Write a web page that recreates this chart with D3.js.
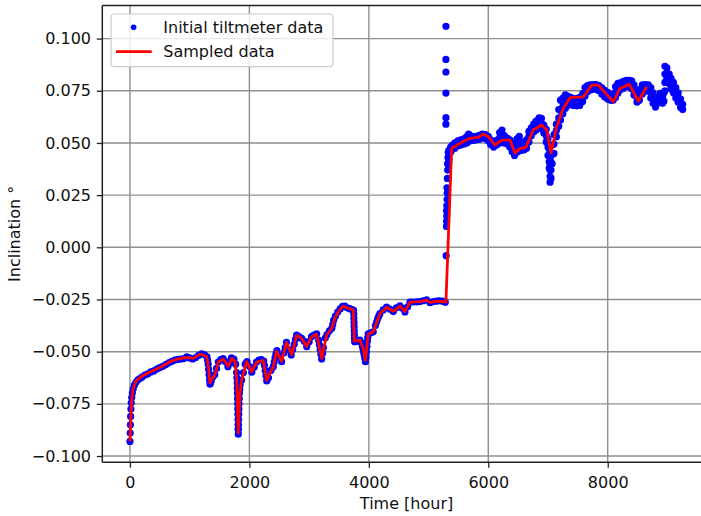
<!DOCTYPE html>
<html>
<head>
<meta charset="utf-8">
<script src="https://cdn.jsdelivr.net/npm/d3@7/dist/d3.min.js"></script>
<style>
  html, body { margin: 0; padding: 0; background: #fff; }
  svg { display: block; font-family: "DejaVu Sans", sans-serif; }
</style>
</head>
<body>
<svg id="chart" width="701" height="516"></svg>
<script>
// ---------------- DATA ----------------
// Tiltmeter readings [hour, inclination °] before the step
const tiltBeforeJump = [
  [0,-0.0930],[4,-0.0890],[8,-0.0850],[12,-0.0810],[16,-0.0775],[22,-0.0745],[30,-0.0720],[40,-0.0698],
  [55,-0.0678],[75,-0.0660],[100,-0.0647],[130,-0.0636],[160,-0.0630],[200,-0.0622],[250,-0.0612],
  [300,-0.0606],[350,-0.0597],[400,-0.0592],[450,-0.0583],[500,-0.0576],[550,-0.0570],[600,-0.0562],
  [650,-0.0553],[700,-0.0546],[750,-0.0540],[800,-0.0537],[850,-0.0535],[900,-0.0533],[950,-0.0525],
  [1000,-0.0530],[1050,-0.0535],[1100,-0.0528],[1150,-0.0518],[1200,-0.0510],[1250,-0.0515],
  [1290,-0.0525],[1300,-0.0540],[1310,-0.0560],[1318,-0.0585],[1325,-0.0610],[1332,-0.0635],
  [1340,-0.0655],[1348,-0.0650],[1360,-0.0640],[1390,-0.0620],
  [1420,-0.0610],[1450,-0.0580],[1480,-0.0550],[1520,-0.0538],[1560,-0.0533],[1600,-0.0548],
  [1640,-0.0572],[1670,-0.0555],[1700,-0.0530],[1740,-0.0535],[1770,-0.0560],[1785,-0.0600],
  [1790,-0.0625],[1795,-0.0650],[1798,-0.0675],[1800,-0.0700],[1802,-0.0725],[1804,-0.0750],
  [1806,-0.0775],[1808,-0.0800],[1810,-0.0825],[1811,-0.0850],[1812,-0.0870],[1814,-0.0895],
  [1816,-0.0872],[1818,-0.0850],[1820,-0.0825],[1822,-0.0800],[1825,-0.0775],[1827,-0.0750],
  [1830,-0.0725],[1833,-0.0700],[1838,-0.0680],[1845,-0.0660],[1870,-0.0636],
  [1900,-0.0600],[1930,-0.0560],[1960,-0.0548],[2000,-0.0570],[2040,-0.0598],[2080,-0.0575],
  [2120,-0.0550],[2160,-0.0540],[2200,-0.0538],[2240,-0.0545],[2252,-0.0565],[2265,-0.0590],
  [2278,-0.0615],[2290,-0.0640],[2320,-0.0625],[2360,-0.0590],[2400,-0.0572],[2415,-0.0550],
  [2430,-0.0530],[2445,-0.0512],[2460,-0.0495],[2500,-0.0520],
  [2540,-0.0548],[2580,-0.0505],[2600,-0.0480],[2620,-0.0455],[2660,-0.0490],[2700,-0.0516],
  [2725,-0.0490],[2750,-0.0465],[2770,-0.0442],
  [2790,-0.0420],[2830,-0.0428],[2875,-0.0436],[2920,-0.0450],[2960,-0.0476],[3000,-0.0452],
  [3040,-0.0428],[3080,-0.0420],[3126,-0.0415],[3160,-0.0445],[3172,-0.0467],[3185,-0.0490],
  [3198,-0.0512],[3210,-0.0535],[3225,-0.0507],
  [3240,-0.0480],[3270,-0.0435],[3300,-0.0418],[3340,-0.0400],[3380,-0.0388],[3395,-0.0370],
  [3410,-0.0350],
  [3440,-0.0330],[3480,-0.0310],[3520,-0.0295],[3560,-0.0283],[3600,-0.0282],[3640,-0.0290],
  [3680,-0.0294],[3720,-0.0298],[3745,-0.0302],[3748,-0.0320],[3750,-0.0340],[3752,-0.0360],
  [3754,-0.0380],[3756,-0.0400],[3758,-0.0420],[3760,-0.0436],
  [3762,-0.0452],[3800,-0.0450],[3850,-0.0445],[3880,-0.0460],[3893,-0.0475],[3905,-0.0490],
  [3915,-0.0505],[3925,-0.0520],[3935,-0.0535],
  [3943,-0.0548],[3952,-0.0525],[3960,-0.0500],[3968,-0.0475],[3975,-0.0450],[3982,-0.0432],
  [3990,-0.0415],[4030,-0.0410],[4074,-0.0405],
  [4110,-0.0375],[4130,-0.0357],[4150,-0.0340],[4168,-0.0328],[4186,-0.0318],[4240,-0.0300],
  [4298,-0.0286],[4350,-0.0296],
  [4409,-0.0308],[4460,-0.0290],[4521,-0.0280],[4560,-0.0292],[4605,-0.0310],[4650,-0.0285],
  [4689,-0.0262],[4740,-0.0262],[4800,-0.0261],[4856,-0.0260],[4910,-0.0256],[4968,-0.0252],
  [5024,-0.0265],[5080,-0.0260],[5136,-0.0258],[5180,-0.0256],[5230,-0.0258],[5280,-0.0263]
];

// Readings during the step around hour 5300
const tiltJump = [
  [5295,-0.0040],[5300,0.0100],[5302,0.0125],[5305,0.0150],[5300,0.0175],[5305,0.0200],
  [5310,0.0230],[5312,0.0260],[5308,0.0285],[5315,0.0330],[5320,0.0370],[5318,0.0400],
  [5325,0.0430],[5330,0.0455]
];

// Isolated outlier readings at the step
const tiltSpikes = [
  [5291,0.0590],[5291,0.0621],[5291,0.0739],[5291,0.0840],[5291,0.0900],[5291,0.1059]
];

// Readings after the step: [hour, reading, reading, ...]
const tiltAfterJump = [
  [5340,0.0420,0.0443,0.0465],[5370,0.0455,0.0480],[5400,0.0470,0.0490],[5440,0.0475,0.0500],
  [5490,0.0485,0.0510],[5540,0.0490,0.0515],[5590,0.0495,0.0520],[5640,0.0500,0.0530],
  [5670,0.0510,0.0542],[5700,0.0510,0.0535],[5750,0.0512,0.0530],[5800,0.0515,0.0532],
  [5850,0.0518,0.0537],[5900,0.0525,0.0542],[5950,0.0520,0.0540],[6000,0.0510,0.0532],
  [6040,0.0492,0.0515],[6090,0.0480,0.0502],[6140,0.0490,0.0512],[6190,0.0500,0.0525,0.0550],
  [6230,0.0505,0.0535,0.0562],[6270,0.0500,0.0535],[6320,0.0495,0.0522],[6360,0.0480,0.0515],
  [6400,0.0458,0.0480,0.0500],[6440,0.0440,0.0468],[6480,0.0455,0.0488,0.0520],
  [6520,0.0462,0.0497,0.0532],[6560,0.0465,0.0485,0.0505],[6600,0.0468,0.0500],
  [6640,0.0475,0.0495,0.0515],[6680,0.0505,0.0530,0.0555],[6720,0.0535,0.0553,0.0572],
  [6760,0.0552,0.0571,0.0590],[6800,0.0562,0.0583,0.0605],[6850,0.0570,0.0595,0.0620],
  [6890,0.0572,0.0595,0.0618],[6930,0.0548,0.0566,0.0585],[6970,0.0505,0.0535,0.0565],
  [7000,0.0440,0.0480,0.0520],[7020,0.0380,0.0410,0.0440,0.0470],
  [7035,0.0312,0.0340,0.0370,0.0400,0.0430],[7050,0.0330,0.0370,0.0410,0.0450],
  [7070,0.0400,0.0445,0.0490],[7100,0.0450,0.0495,0.0540],[7140,0.0530,0.0560,0.0590],
  [7180,0.0580,0.0620,0.0660],[7210,0.0610,0.0655,0.0705],[7250,0.0640,0.0678,0.0715],
  [7290,0.0665,0.0698,0.0730],[7330,0.0680,0.0725],[7380,0.0688,0.0718],[7430,0.0680,0.0712],
  [7480,0.0678,0.0712],[7530,0.0680,0.0718],[7580,0.0698,0.0735],[7620,0.0725,0.0745,0.0765],
  [7660,0.0745,0.0775],[7700,0.0752,0.0778],[7750,0.0757,0.0780],[7800,0.0757,0.0780],
  [7850,0.0750,0.0776],[7900,0.0735,0.0765],[7950,0.0720,0.0752],[8000,0.0710,0.0742],
  [8050,0.0704,0.0732],[8090,0.0704,0.0730],[8130,0.0718,0.0744,0.0770],
  [8170,0.0738,0.0762,0.0785],[8210,0.0755,0.0788],[8260,0.0762,0.0795],[8310,0.0768,0.0800],
  [8360,0.0770,0.0800],[8400,0.0760,0.0798],[8440,0.0730,0.0754,0.0778],
  [8490,0.0696,0.0718,0.0740],[8530,0.0705,0.0730,0.0755],[8580,0.0735,0.0757,0.0778],
  [8630,0.0752,0.0780],[8680,0.0748,0.0778],[8720,0.0715,0.0740,0.0765],
  [8760,0.0690,0.0715,0.0740],[8800,0.0672,0.0693,0.0715],[8840,0.0690,0.0720],
  [8880,0.0705,0.0738],[8920,0.0690,0.0725],[8940,0.0700,0.0740],
  [8958,0.0750,0.0790,0.0830,0.0867],[8990,0.0810,0.0835,0.0860],[9030,0.0785,0.0808,0.0830],
  [9060,0.0760,0.0785,0.0810],[9100,0.0740,0.0765,0.0790],[9140,0.0715,0.0740,0.0765],
  [9180,0.0695,0.0718,0.0740],[9220,0.0670,0.0690,0.0710],[9255,0.0660,0.0685]
];

// Sampled series [hour, inclination °]
const sampled = [
  [0,-0.0930],[28,-0.0730],[59,-0.0670],[112,-0.0636],[223,-0.0614],[335,-0.0597],[502,-0.0576],
  [670,-0.0548],[782,-0.0537],[949,-0.0527],[1060,-0.0532],[1172,-0.0512],[1284,-0.0522],
  [1315,-0.0575],[1340,-0.0650],[1373,-0.0630],[1423,-0.0610],[1479,-0.0550],[1562,-0.0535],
  [1646,-0.0570],[1703,-0.0532],[1758,-0.0545],[1786,-0.0620],[1813,-0.0890],[1842,-0.0700],
  [1870,-0.0636],[1954,-0.0548],[2038,-0.0595],[2122,-0.0550],[2232,-0.0542],[2289,-0.0638],
  [2400,-0.0572],[2456,-0.0497],[2540,-0.0546],[2624,-0.0456],[2708,-0.0515],[2791,-0.0422],
  [2875,-0.0436],[2959,-0.0475],[3043,-0.0428],[3126,-0.0416],[3210,-0.0532],[3294,-0.0420],
  [3378,-0.0388],[3433,-0.0338],[3517,-0.0296],[3572,-0.0282],[3656,-0.0292],[3739,-0.0300],
  [3756,-0.0450],[3851,-0.0445],[3901,-0.0482],[3943,-0.0542],[3990,-0.0415],[4074,-0.0405],
  [4186,-0.0318],[4298,-0.0287],[4409,-0.0307],[4521,-0.0281],[4605,-0.0308],[4689,-0.0263],
  [4856,-0.0260],[4968,-0.0253],[5024,-0.0264],[5136,-0.0258],[5291,-0.0262],[5387,0.0474],
  [5526,0.0498],[5693,0.0522],[5832,0.0527],[5916,0.0543],[6000,0.0530],[6112,0.0490],
  [6224,0.0514],[6363,0.0514],[6447,0.0452],[6531,0.0474],[6631,0.0479],[6753,0.0562],
  [6894,0.0586],[6978,0.0562],[7050,0.0452],[7145,0.0578],[7256,0.0666],[7368,0.0717],
  [7591,0.0721],[7732,0.0777],[7842,0.0777],[8093,0.0697],[8205,0.0761],[8361,0.0781],
  [8512,0.0701],[8652,0.0769]
];

const xTicks = [0, 2000, 4000, 6000, 8000];
const yTicks = [-0.100, -0.075, -0.050, -0.025, 0.000, 0.025, 0.050, 0.075, 0.100];
const xDomain = [-463, 9726];
const yDomain = [-0.10295, 0.11585];
const legendLabels = ["Initial tiltmeter data", "Sampled data"];
const xLabel = "Time [hour]";
const yLabel = "Inclination °";

// ---------------- LAYOUT ----------------
const plot = { left: 102.3, right: 710.8, top: 5.5, bottom: 462.2 };
const FONT = 16;

const svg = d3.select("#chart");
const x = d3.scaleLinear().domain(xDomain).range([plot.left, plot.right]);
const y = d3.scaleLinear().domain(yDomain).range([plot.bottom, plot.top]);

// flatten readings into one table
const readings = [];
tiltBeforeJump.forEach(d => readings.push(d));
tiltJump.forEach(d => readings.push(d));
tiltSpikes.forEach(d => readings.push(d));
tiltAfterJump.forEach(row => row.slice(1).forEach(v => readings.push([row[0], v])));

svg.append("defs").append("clipPath").attr("id", "clip")
  .append("rect").attr("x", plot.left).attr("y", plot.top)
  .attr("width", plot.right - plot.left).attr("height", plot.bottom - plot.top);

// grid
const grid = svg.append("g");
grid.selectAll("line.gx").data(xTicks).join("line")
  .attr("x1", d => x(d)).attr("x2", d => x(d))
  .attr("y1", plot.top).attr("y2", plot.bottom)
  .attr("stroke", "#8f8f8f").attr("stroke-width", 1.4);
grid.selectAll("line.gy").data(yTicks).join("line")
  .attr("y1", d => y(d)).attr("y2", d => y(d))
  .attr("x1", plot.left).attr("x2", plot.right)
  .attr("stroke", "#8f8f8f").attr("stroke-width", 1.4);

// data
const g = svg.append("g").attr("clip-path", "url(#clip)");
g.selectAll("circle").data(readings).join("circle")
  .attr("cx", d => x(d[0])).attr("cy", d => y(d[1])).attr("r", 3.6)
  .attr("fill", "#0000ff");
g.append("path").datum(sampled)
  .attr("d", d3.line().x(d => x(d[0])).y(d => y(d[1])))
  .attr("fill", "none").attr("stroke", "#ff0000").attr("stroke-width", 2.8)
  .attr("stroke-linejoin", "round").attr("stroke-linecap", "butt");

// axes
const xAxis = svg.append("g").attr("transform", `translate(0,${plot.bottom})`)
  .call(d3.axisBottom(x).tickValues(xTicks).tickFormat(d3.format("d")).tickSize(5.5).tickPadding(8.6));
const yAxis = svg.append("g").attr("transform", `translate(${plot.left},0)`)
  .call(d3.axisLeft(y).tickValues(yTicks).tickFormat(d3.format(".3f")).tickSize(5.5).tickPadding(5.8));
[xAxis, yAxis].forEach(a => {
  a.select(".domain").remove();
  a.selectAll(".tick line").attr("stroke", "#222").attr("stroke-width", 1.3);
  a.selectAll(".tick text").attr("fill", "#111").style("font-size", FONT + "px")
    .style("font-family", "'DejaVu Sans', sans-serif");
});

// spines
const sp = svg.append("g").attr("stroke", "#222").attr("stroke-width", 1.5);
sp.append("line").attr("x1", plot.left).attr("x2", plot.left).attr("y1", plot.top).attr("y2", plot.bottom);
sp.append("line").attr("x1", plot.left).attr("x2", plot.right).attr("y1", plot.bottom).attr("y2", plot.bottom);
sp.append("line").attr("x1", plot.left).attr("x2", plot.right).attr("y1", plot.top).attr("y2", plot.top);
sp.append("line").attr("x1", plot.right).attr("x2", plot.right).attr("y1", plot.top).attr("y2", plot.bottom);

// axis labels
svg.append("text").attr("x", (plot.left + plot.right) / 2).attr("y", 509)
  .attr("text-anchor", "middle").style("font-size", FONT + "px").attr("fill", "#111").text(xLabel);
svg.append("text").attr("transform", `translate(20,${(plot.top + plot.bottom) / 2}) rotate(-90)`)
  .attr("text-anchor", "middle").style("font-size", FONT + "px").attr("fill", "#111").text(yLabel);

// legend
const lg = svg.append("g");
lg.append("rect").attr("x", 111).attr("y", 14).attr("width", 222).attr("height", 52.7)
  .attr("rx", 3.5).attr("fill", "#fff").attr("fill-opacity", 0.8)
  .attr("stroke", "#cccccc").attr("stroke-width", 1.2);
lg.append("circle").attr("cx", 133.6).attr("cy", 27.3).attr("r", 2.8).attr("fill", "#0000ff");
lg.append("line").attr("x1", 116).attr("x2", 151.7).attr("y1", 51.7).attr("y2", 51.7)
  .attr("stroke", "#ff0000").attr("stroke-width", 2.8);
lg.selectAll("text").data(legendLabels).join("text")
  .attr("x", 163.3).attr("y", (d, i) => 32.6 + i * 24.3)
  .style("font-size", FONT + "px").attr("fill", "#111").text(d => d);
</script>
</body>
</html>
